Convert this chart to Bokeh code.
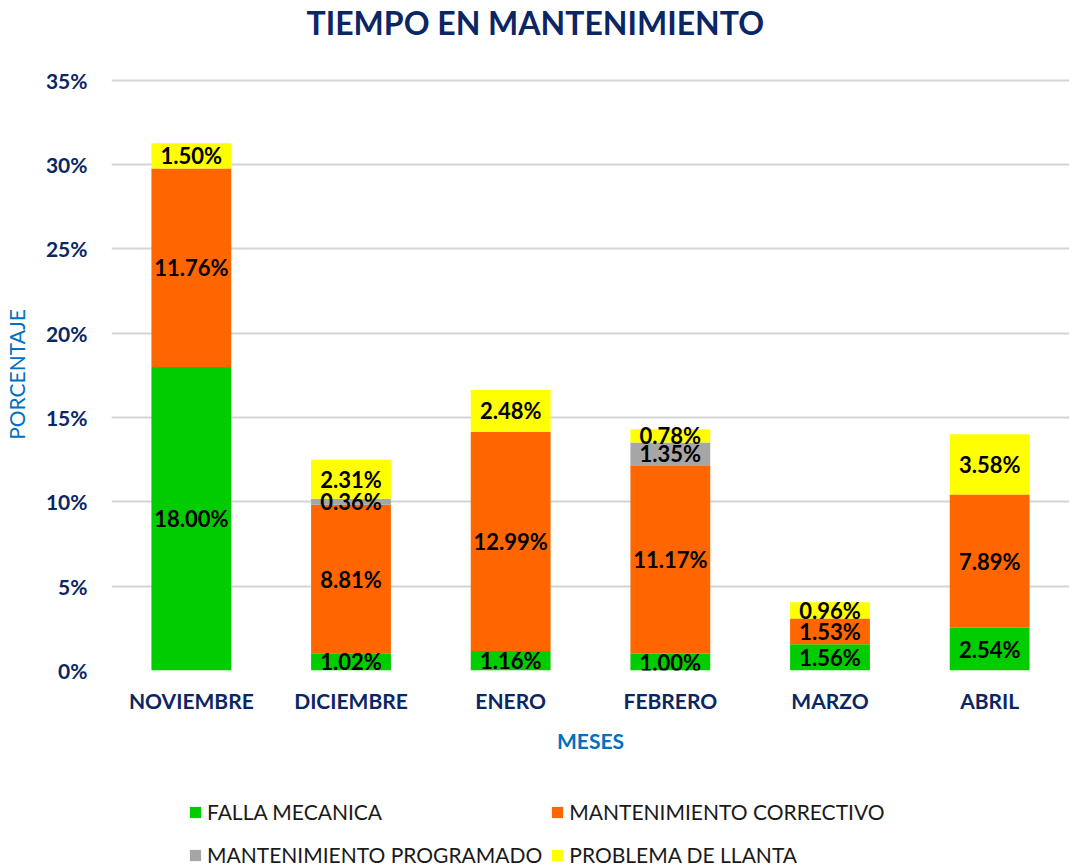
from bokeh.plotting import figure
from bokeh.layouts import column
from bokeh.models import (ColumnDataSource, FactorRange, Range1d, Legend, LegendItem,
                          FixedTicker, PrintfTickFormatter, Title)
from bokeh.core.properties import value
from bokeh.embed import file_html
from bokeh.resources import INLINE

months = ["NOVIEMBRE", "DICIEMBRE", "ENERO", "FEBRERO", "MARZO", "ABRIL"]
falla_mecanica = [18.00, 1.02, 1.16, 1.00, 1.56, 2.54]
mant_correctivo = [11.76, 8.81, 12.99, 11.17, 1.53, 7.89]
mant_programado = [0.00, 0.36, 0.00, 1.35, 0.00, 0.00]
problema_llanta = [1.50, 2.31, 2.48, 0.78, 0.96, 3.58]
y_ticks = [0, 5, 10, 15, 20, 25, 30, 35]

series_names = ["FALLA MECANICA", "MANTENIMIENTO CORRECTIVO",
                "MANTENIMIENTO PROGRAMADO", "PROBLEMA DE LLANTA"]
series_keys = ["falla", "correctivo", "programado", "llanta"]
series_vals = [falla_mecanica, mant_correctivo, mant_programado, problema_llanta]
colors = ["#00CC00", "#FF6600", "#A6A6A6", "#FFFF00"]

FONT = "Lato"
NAVY = "#0B2664"
BLUE = "#0070C0"

data = {"months": months}
for k, v in zip(series_keys, series_vals):
    data[k] = v
source = ColumnDataSource(data)

p = figure(width=1074, height=767,
           output_backend="svg", toolbar_location=None,
           x_range=FactorRange(factors=months, range_padding=0),
           y_range=Range1d(0, 35.1),
           min_border_left=110, min_border_right=5, min_border_top=76,
           min_border_bottom=97)

renderers = p.vbar_stack(series_keys, x="months", width=0.5, color=colors,
                         line_color=None, source=source)

# data labels
lx, ly, lt = [], [], []
for i, m in enumerate(months):
    base = 0.0
    for v in series_vals:
        val = v[i]
        if val > 0:
            lx.append(m)
            ly.append(base + val / 2.0)
            lt.append(f"{val:.2f}%")
        base += val
p.text(x=lx, y=ly, text=lt, text_align="center", text_baseline="middle",
       text_font=value(FONT), text_font_style="bold", text_font_size="22px",
       text_color="#000000")

# title, with a blank spacer title between it and the frame
p.title.text = "TIEMPO EN MANTENIMIENTO"
p.title.align = "left"
p.title.offset = 195
p.title.text_font = FONT
p.title.text_font_size = "32px"
p.title.text_font_style = "bold"
p.title.text_color = NAVY
p.title.standoff = 0
spacer = Title(text=" ", text_font=FONT, text_font_size="29px", standoff=0)
p.add_layout(spacer, "above")

# axes
p.yaxis.ticker = FixedTicker(ticks=y_ticks)
p.yaxis.formatter = PrintfTickFormatter(format="%d%%")
for ax in (p.xaxis[0], p.yaxis[0]):
    ax.axis_line_color = None
    ax.major_tick_line_color = None
    ax.minor_tick_line_color = None
    ax.major_label_text_font = FONT
    ax.major_label_text_font_style = "bold"
    ax.major_label_text_font_size = "21px"
    ax.major_label_text_color = NAVY
    ax.axis_label_text_font = FONT
    ax.axis_label_text_color = BLUE
    ax.axis_label_text_font_size = "21px"

p.yaxis.major_label_standoff = 18
p.yaxis.axis_label = "PORCENTAJE"
p.yaxis.axis_label_text_font_style = "normal"
p.yaxis.axis_label_standoff = 14

p.xaxis.major_label_standoff = 11
p.xaxis.axis_label = "MESES"
p.xaxis.axis_label_text_font_style = "bold"
p.xaxis.axis_label_standoff = 12

p.xgrid.grid_line_color = None
p.ygrid.grid_line_color = "#D4D4D4"
p.ygrid.grid_line_width = 2
p.outline_line_color = None

# legend figure (bars kept out of its visible y range; only the legend shows)
lf = figure(width=1074, height=100, output_backend="svg", toolbar_location=None,
            x_range=FactorRange(factors=months, range_padding=0),
            y_range=Range1d(100, 101),
            x_axis_location=None, y_axis_location=None,
            min_border_left=0, min_border_right=0, min_border_top=0,
            min_border_bottom=0)
lf_renderers = lf.vbar_stack(series_keys, x="months", width=0.5, color=colors,
                             line_color=None, source=source)
lf.grid.visible = False
lf.outline_line_color = None

# column-major fill: column 1 = items 0, 2; column 2 = items 1, 3
order = [0, 2, 1, 3]
items = [LegendItem(label=series_names[i], renderers=[lf_renderers[i]]) for i in order]
legend = Legend(items=items, ncols=2, location=(77, -5),
                glyph_width=14, glyph_height=14, label_standoff=5,
                label_height=35, spacing=8, padding=0, margin=0,
                label_text_font=FONT, label_text_font_size="21px",
                label_text_color="#1A1A1A",
                border_line_color=None, background_fill_alpha=0)
lf.add_layout(legend, "center")

layout = column(p, lf, spacing=0)
open("out.html", "w").write(file_html(layout, INLINE))
